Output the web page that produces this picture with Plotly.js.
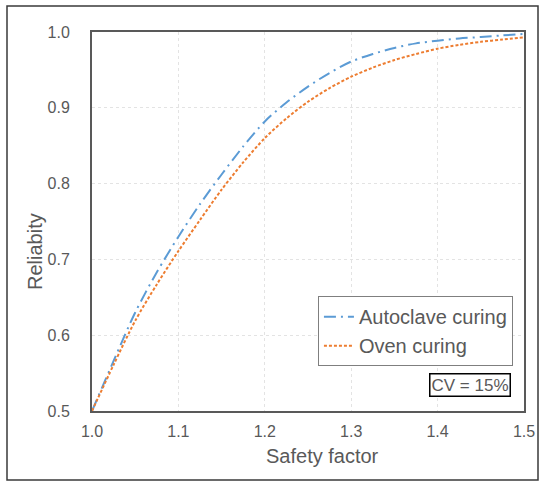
<!DOCTYPE html>
<html>
<head>
<meta charset="utf-8">
<script src="https://cdn.plot.ly/plotly-3.0.1.min.js"></script>
<style>html,body{margin:0;padding:0;background:#fff;}#chart{width:546px;height:482px;}</style>
</head>
<body>
<div id="chart"></div>
<script>
var safetyFactor = [1.0, 1.025, 1.05, 1.075, 1.1, 1.125, 1.15, 1.175, 1.2, 1.225, 1.25, 1.275, 1.3, 1.325, 1.35, 1.375, 1.4, 1.425, 1.45, 1.475, 1.5];
var autoclaveReliability = [0.5, 0.566, 0.630, 0.683, 0.730, 0.773, 0.812, 0.849, 0.882, 0.907, 0.928, 0.946, 0.961, 0.971, 0.979, 0.985, 0.9885, 0.9915, 0.9934, 0.9955, 0.9974];
var ovenReliability = [0.5, 0.561, 0.619, 0.667, 0.711, 0.752, 0.792, 0.828, 0.860, 0.886, 0.908, 0.926, 0.941, 0.953, 0.963, 0.971, 0.978, 0.983, 0.987, 0.990, 0.993];
var xTicks = [1.0, 1.1, 1.2, 1.3, 1.4, 1.5];
var xTickLabels = ['1.0', '1.1', '1.2', '1.3', '1.4', '1.5'];
var yTicks = [0.5, 0.6, 0.7, 0.8, 0.9, 1.0];
var yTickLabels = ['0.5', '0.6', '0.7', '0.8', '0.9', '1.0'];
var seriesNames = ['Autoclave curing', 'Oven curing'];

var FONT = 'Liberation Sans, Arial, sans-serif';
var TXT = '#595959';

var traces = [
  {x: safetyFactor, y: autoclaveReliability, name: seriesNames[0], mode: 'lines',
   line: {color: '#5B9BD5', width: 2, dash: '12px,5px,2px,5px', shape: 'spline', smoothing: 0.8}},
  {x: safetyFactor, y: ovenReliability, name: seriesNames[1], mode: 'lines',
   line: {color: '#ED7D31', width: 2, dash: '3px,2px', shape: 'spline', smoothing: 0.8}}
];

var layout = {
  width: 546, height: 482,
  margin: {l: 92, r: 22, t: 32, b: 71},
  paper_bgcolor: '#fff', plot_bgcolor: '#fff',
  font: {family: FONT, color: TXT, size: 16},
  showlegend: true,
  legend: {x: 0.523, y: 0.303, xanchor: 'left', yanchor: 'top',
           bordercolor: '#7f7f7f', borderwidth: 1, bgcolor: '#fff',
           font: {family: FONT, size: 20, color: TXT}, tracegroupgap: 0},
  xaxis: {range: [1.0, 1.5], tickvals: xTicks, ticktext: xTickLabels,
          showgrid: true, gridcolor: '#e3e3e3', griddash: 'dot', gridwidth: 1,
          zeroline: false, showline: true, linecolor: '#595959', linewidth: 2, mirror: true,
          ticks: '', ticklabelstandoff: 5, tickfont: {size: 16, color: TXT}},
  yaxis: {range: [0.5, 1.0], tickvals: yTicks, ticktext: yTickLabels,
          showgrid: true, gridcolor: '#e3e3e3', griddash: 'dot', gridwidth: 1,
          zeroline: false, showline: true, linecolor: '#595959', linewidth: 2, mirror: true,
          ticks: '', ticklabelstandoff: 17, tickfont: {size: 16, color: TXT}},
  annotations: [
    {text: 'Safety factor', xref: 'paper', yref: 'paper', x: (322 - 92) / 432, y: (411 - 456) / 379,
     xanchor: 'center', yanchor: 'middle', showarrow: false, font: {family: FONT, size: 20, color: TXT}},
    {text: 'Reliabity', xref: 'paper', yref: 'paper', x: (35 - 92) / 432, y: (411 - 252) / 379,
     xanchor: 'center', yanchor: 'middle', textangle: -90, showarrow: false, font: {family: FONT, size: 20, color: TXT}},
    {text: 'CV = 15%', xref: 'paper', yref: 'paper', x: (470 - 92) / 432, y: (411 - 385) / 379,
     xanchor: 'center', yanchor: 'middle', showarrow: false, font: {family: FONT, size: 17, color: TXT},
     bordercolor: '#000', borderwidth: 1.5, borderpad: 1, bgcolor: '#fff'}
  ],
  shapes: [
    {type: 'rect', xref: 'paper', yref: 'paper',
     x0: (7 - 92) / 432, x1: (538 - 92) / 432, y0: (411 - 480) / 379, y1: (411 - 6) / 379,
     line: {color: '#3a3a3a', width: 1.5}, fillcolor: 'rgba(0,0,0,0)', layer: 'below'}
  ]
};

Plotly.newPlot('chart', traces, layout, {displayModeBar: false, staticPlot: true});
</script>
</body>
</html>
